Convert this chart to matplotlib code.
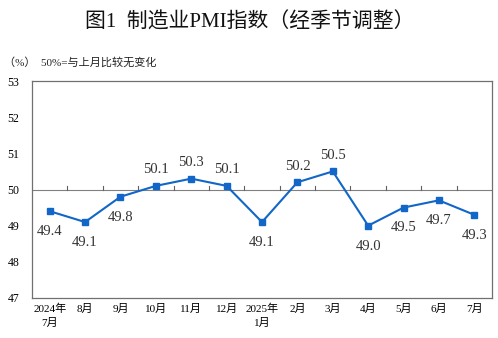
import matplotlib
matplotlib.use("Agg")
import matplotlib.pyplot as plt

months = ["2024年\n7月", "8月", "9月", "10月", "11月", "12月", "2025年\n1月",
          "2月", "3月", "4月", "5月", "6月", "7月"]
pmi = [49.4, 49.1, 49.8, 50.1, 50.3, 50.1, 49.1, 50.2, 50.5, 49.0, 49.5, 49.7, 49.3]
label_above = [False, False, False, True, True, True, False, True, True, False, False, False, False]
yticks = [47, 48, 49, 50, 51, 52, 53]

serif = ["Liberation Serif", "Noto Sans CJK SC"]
plt.rcParams['font.family'] = serif

fig = plt.figure(figsize=(4.98, 3.38), dpi=100)
ax = fig.add_axes([32/498, 1-298/338, 460/498, 217/338])

x = list(range(len(pmi)))
ax.plot(x, pmi, color="#1166c8", lw=1.5, marker="s", ms=4.5, zorder=3)
ax.axhline(50, color="#808080", lw=0.8, zorder=1)
for i in range(len(pmi) - 1):
    ax.plot([i + 0.5, i + 0.5], [50, 50.09], color="#606060", lw=0.8, zorder=1)

for i, v in enumerate(pmi):
    if label_above[i]:
        ax.annotate(f"{v:.1f}", (i, v), xytext=(0, 7), textcoords="offset points",
                    ha="center", va="bottom", fontsize=10.5, color="#333333")
    else:
        ax.annotate(f"{v:.1f}", (i, v), xytext=(0, -10), textcoords="offset points",
                    ha="center", va="top", fontsize=10.5, color="#333333")

ax.set_xlim(-0.5, len(pmi) - 0.5)
ax.set_ylim(47, 53)
ax.set_yticks(yticks)
ax.set_yticklabels([str(t) for t in yticks], fontsize=8.5)
ax.tick_params(axis="y", length=0, pad=9)
ax.set_xticks(x)
ax.set_xticklabels(months, fontsize=8, linespacing=1.45)
ax.tick_params(axis="x", length=0, pad=4)
for s in ax.spines.values():
    s.set_color("#707070")
    s.set_linewidth(0.9)

fig.text(0.502, 1 - 23/338, "图1  制造业PMI指数（经季节调整）", ha="center", va="center",
         fontsize=15, family=serif, color="#111111")
fig.text(4/498, 1 - 62/338, "（%）  50%=与上月比较无变化", ha="left", va="center",
         fontsize=8, family=serif, color="#222222")

fig.savefig("out.png", dpi=100)
